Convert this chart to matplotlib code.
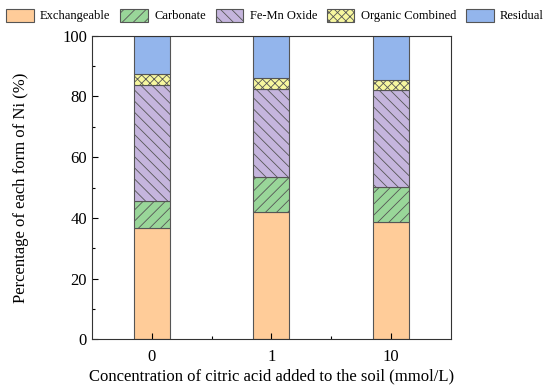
import matplotlib.pyplot as plt
import numpy as np

plt.rcParams['font.family'] = ['Liberation Serif', 'DejaVu Serif']
plt.rcParams['hatch.linewidth'] = 0.6
plt.rcParams['hatch.color'] = '#555555'

# Datos
concentrations = ["0", "1", "10"]
forms = ["Exchangeable", "Carbonate", "Fe-Mn Oxide", "Organic Combined", "Residual"]
exchangeable = [36.6, 42.0, 38.8]
carbonate = [9.1, 11.4, 11.5]
fe_mn_oxide = [38.0, 29.2, 31.8]
organic = [3.7, 3.5, 3.3]
residual = [12.6, 13.9, 14.6]

colors = ['#ffcc99', '#99d699', '#c5b5dd', '#f7f79f', '#93b5ec']
hatches = ['', '///', '\\\\\\', 'xxxx', '']

fig = plt.figure(figsize=(5.5, 3.92), dpi=100)
ax = fig.add_axes([0.167, 0.134, 0.653, 0.775])

x = np.arange(len(concentrations))
bottom = np.zeros(len(concentrations))
for name, vals, c, h in zip(forms, [exchangeable, carbonate, fe_mn_oxide, organic, residual], colors, hatches):
    ax.bar(x, vals, width=0.3, bottom=bottom, color=c, edgecolor='#555555',
           hatch=h, linewidth=0.8, label=name)
    bottom += np.array(vals)

ax.set_xlim(-0.5, 2.5)
ax.set_ylim(0, 100)
ax.set_xticks(x)
ax.set_xticklabels(concentrations)
ax.set_xticks([0.5, 1.5], minor=True)
ax.set_yticks(np.arange(0, 101, 20))
ax.set_yticks(np.arange(10, 100, 20), minor=True)
ax.tick_params(direction='in', labelsize=12, length=4, width=0.8)
ax.tick_params(axis='x', pad=7)
ax.tick_params(which='minor', direction='in', length=2, width=0.8)
for s in ax.spines.values():
    s.set_linewidth(0.8)
    s.set_color('#333333')

ax.set_xlabel('Concentration of citric acid added to the soil (mmol/L)', fontsize=12, labelpad=2)
ax.set_ylabel('Percentage of each form of Ni (%)', fontsize=12, labelpad=24)

fig.legend(loc='upper center', bbox_to_anchor=(0.5, 1.0), ncol=5, frameon=False,
           fontsize=9, handlelength=2.2, handleheight=1.2, columnspacing=0.8,
           handletextpad=0.5, borderaxespad=0.3)

plt.savefig('out.png', dpi=100)
